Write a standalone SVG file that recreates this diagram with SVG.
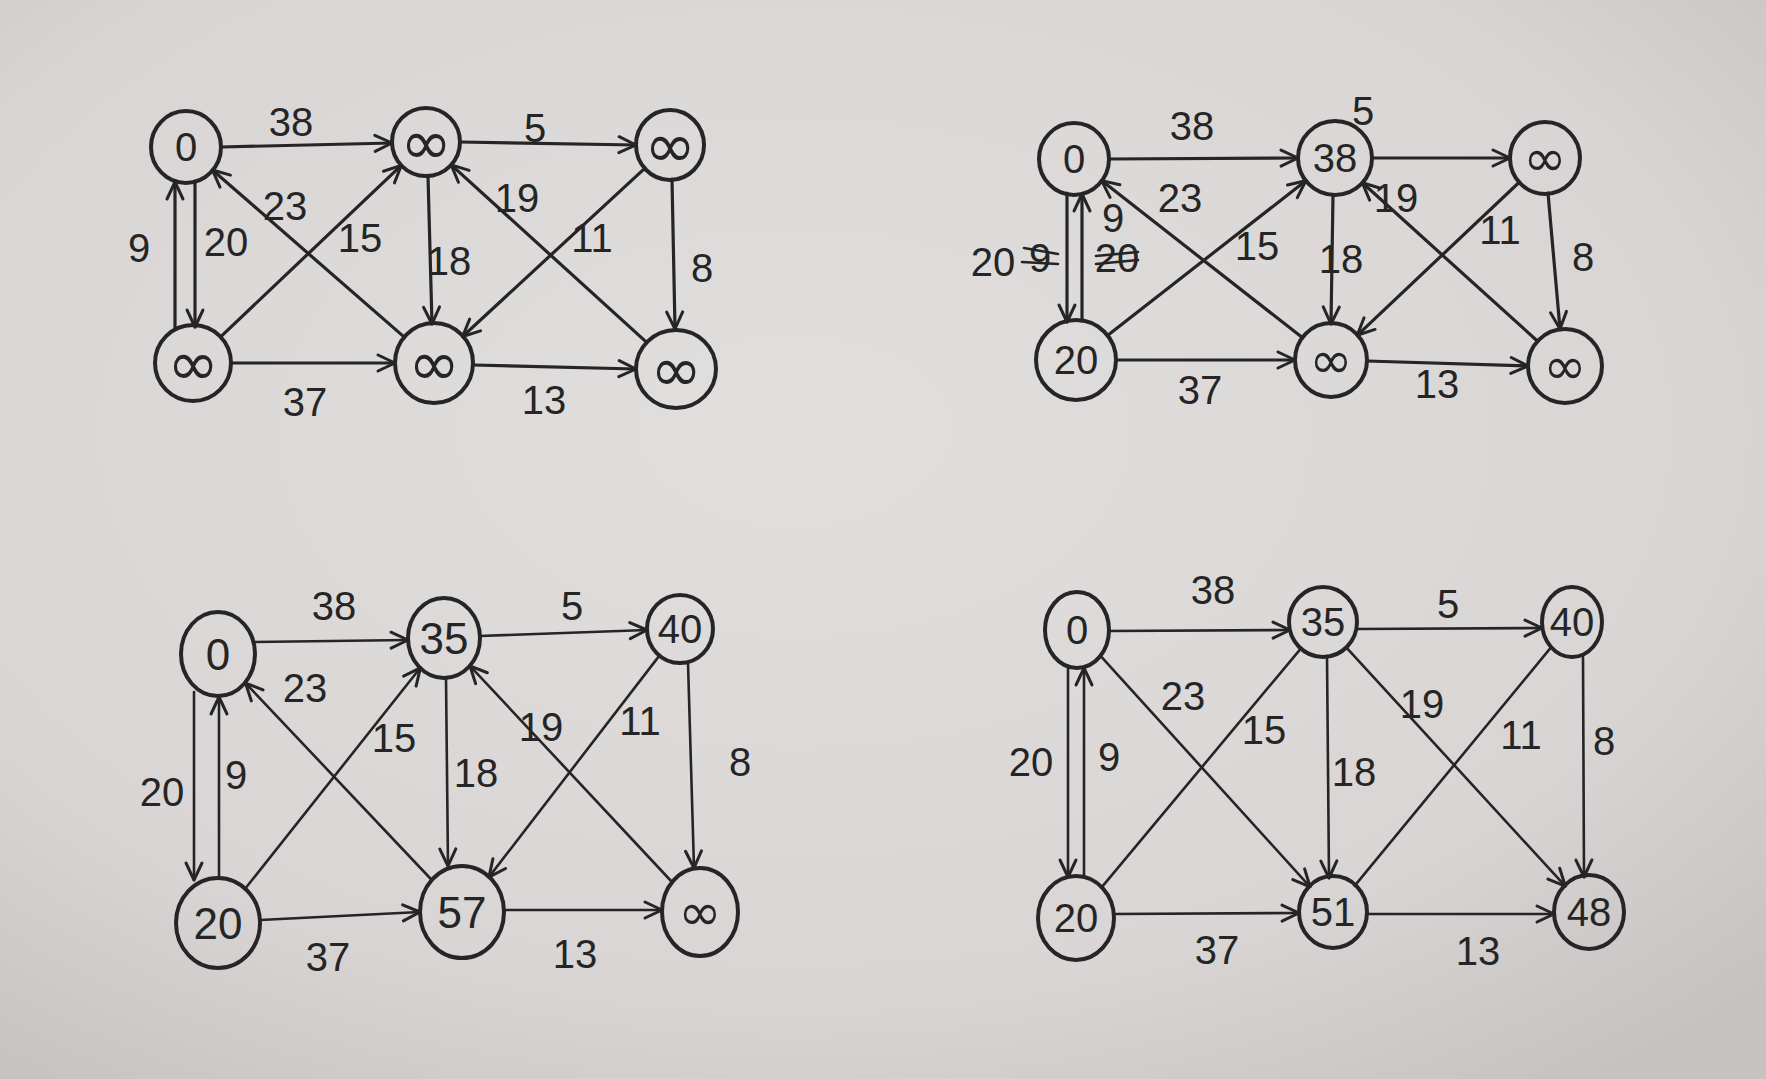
<svg xmlns="http://www.w3.org/2000/svg" width="1766" height="1079" viewBox="0 0 1766 1079">
<defs>
<radialGradient id="paper" cx="0.45" cy="0.4" r="0.75">
<stop offset="0" stop-color="#e1dfde"/>
<stop offset="0.7" stop-color="#d8d5d4"/>
<stop offset="1" stop-color="#c6c2c1"/>
</radialGradient>
<marker id="arr" markerUnits="userSpaceOnUse" markerWidth="22" markerHeight="22" viewBox="0 0 22 22" refX="20" refY="11" orient="auto">
<path d="M3,3 L20,11 L3,19" fill="none" stroke="#252525" stroke-width="3" stroke-linecap="round" stroke-linejoin="round"/>
</marker>
</defs>
<style>
.node{fill:none;stroke:#252525;stroke-width:4}
.nt{font-family:"Liberation Sans","DejaVu Sans",sans-serif;font-size:40px;fill:#252525;text-anchor:middle;dominant-baseline:central}
.nt3{font-family:"Liberation Sans","DejaVu Sans",sans-serif;font-size:44px;fill:#252525;text-anchor:middle;dominant-baseline:central}
.inf{font-family:"DejaVu Sans",sans-serif;font-size:52px;fill:#252525;text-anchor:middle;dominant-baseline:central}
.infb{font-family:"DejaVu Sans",sans-serif;font-size:62px;fill:#252525;text-anchor:middle;dominant-baseline:central}
.lb{font-family:"Liberation Sans","DejaVu Sans",sans-serif;font-size:40px;fill:#252525;text-anchor:middle;dominant-baseline:central}
.e{stroke:#252525;stroke-width:3.2;fill:none;stroke-linecap:round}
.ea{stroke:#252525;stroke-width:3.2;fill:none;stroke-linecap:round;marker-end:url(#arr)}
.t{stroke:#252525;stroke-width:2.6;fill:none;stroke-linecap:round}
.ta{stroke:#252525;stroke-width:2.6;fill:none;stroke-linecap:round;marker-end:url(#arr)}
</style>
<rect width="1766" height="1079" fill="url(#paper)"/>

<!-- Graph 1 -->
<g id="graph1">
<g id="g1-connectors">
<line class="ea" x1="221" y1="147" x2="392" y2="143"/>
<line class="ea" x1="460" y1="142" x2="636" y2="145"/>
<line class="ea" x1="175" y1="328" x2="175" y2="182"/>
<line class="ea" x1="195" y1="181" x2="195" y2="327"/>
<line class="ea" x1="404.6" y1="337.4" x2="212.4" y2="170"/>
<line class="ea" x1="220.6" y1="336.8" x2="401.3" y2="165.4"/>
<line class="ea" x1="428" y1="176" x2="432" y2="324"/>
<line class="ea" x1="646.4" y1="342.1" x2="451.2" y2="164.9"/>
<line class="ea" x1="645" y1="168.1" x2="462.6" y2="336.5"/>
<line class="ea" x1="672" y1="179" x2="675" y2="329"/>
<line class="ea" x1="231" y1="363" x2="395" y2="363"/>
<line class="ea" x1="473" y1="365" x2="636" y2="369"/>
</g>
<g id="g1-labels">
<text class="lb" x="291" y="122">38</text>
<text class="lb" x="535" y="128">5</text>
<text class="lb" x="139" y="248">9</text>
<text class="lb" x="226" y="242">20</text>
<text class="lb" x="285" y="206">23</text>
<text class="lb" x="360" y="238">15</text>
<text class="lb" x="449" y="261">18</text>
<text class="lb" x="517" y="198">19</text>
<text class="lb" x="592" y="238">11</text>
<text class="lb" x="702" y="268">8</text>
<text class="lb" x="305" y="402">37</text>
<text class="lb" x="544" y="400">13</text>
</g>
<g id="g1-n1"><ellipse class="node" cx="186" cy="147" rx="35" ry="36"/><text class="nt" x="186" y="147">0</text></g>
<g id="g1-n2"><ellipse class="node" cx="426" cy="142" rx="34" ry="34"/><text class="infb" x="426" y="142">∞</text></g>
<g id="g1-n3"><ellipse class="node" cx="670" cy="145" rx="34" ry="35"/><text class="infb" x="670" y="145">∞</text></g>
<g id="g1-n4"><ellipse class="node" cx="193" cy="363" rx="38" ry="38"/><text class="infb" x="193" y="363">∞</text></g>
<g id="g1-n5"><ellipse class="node" cx="434" cy="363" rx="39" ry="40"/><text class="infb" x="434" y="363">∞</text></g>
<g id="g1-n6"><ellipse class="node" cx="676" cy="369" rx="40" ry="39"/><text class="infb" x="676" y="369">∞</text></g>
</g>

<!-- Graph 2 -->
<g id="graph2">
<g id="g2-connectors">
<line class="ea" x1="1109" y1="159" x2="1298" y2="158"/>
<line class="ea" x1="1372" y1="158" x2="1510" y2="158"/>
<line class="ea" x1="1067" y1="193" x2="1067" y2="322"/>
<line class="ea" x1="1082" y1="321" x2="1082" y2="194"/>
<line class="ea" x1="1302.6" y1="337.8" x2="1101.6" y2="180.6"/>
<line class="ea" x1="1107.5" y1="335.4" x2="1305.8" y2="180.8"/>
<line class="ea" x1="1333" y1="195" x2="1331" y2="324"/>
<line class="ea" x1="1537.6" y1="341.2" x2="1362.4" y2="182.8"/>
<line class="ea" x1="1519.5" y1="182" x2="1357.2" y2="335.3"/>
<line class="ea" x1="1548" y1="193" x2="1560" y2="329"/>
<line class="ea" x1="1116" y1="360" x2="1295" y2="360"/>
<line class="ea" x1="1367" y1="361" x2="1528" y2="366"/>
</g>
<g id="g2-labels">
<text class="lb" x="1192" y="126">38</text>
<text class="lb" x="1363" y="111">5</text>
<text class="lb" x="1180" y="198">23</text>
<text class="lb" x="1113" y="218">9</text>
<text class="lb" x="1117" y="258">20</text>
<line class="t" x1="1096" y1="256" x2="1138" y2="252"/>
<line class="t" x1="1096" y1="264" x2="1138" y2="260"/>
<text class="lb" x="993" y="262">20</text>
<text class="lb" x="1040" y="258">9</text>
<line class="t" x1="1024" y1="248" x2="1058" y2="254"/>
<line class="t" x1="1022" y1="262" x2="1058" y2="264"/>
<text class="lb" x="1257" y="246">15</text>
<text class="lb" x="1341" y="259">18</text>
<text class="lb" x="1396" y="198">19</text>
<text class="lb" x="1500" y="230">11</text>
<text class="lb" x="1583" y="257">8</text>
<text class="lb" x="1200" y="390">37</text>
<text class="lb" x="1437" y="384">13</text>
</g>
<g id="g2-n1"><ellipse class="node" cx="1074" cy="159" rx="35" ry="36"/><text class="nt" x="1074" y="159">0</text></g>
<g id="g2-n2"><ellipse class="node" cx="1335" cy="158" rx="37" ry="37"/><text class="nt" x="1335" y="158">38</text></g>
<g id="g2-n3"><ellipse class="node" cx="1545" cy="158" rx="35" ry="36"/><text class="inf" x="1545" y="158">∞</text></g>
<g id="g2-n4"><ellipse class="node" cx="1076" cy="360" rx="40" ry="40"/><text class="nt" x="1076" y="360">20</text></g>
<g id="g2-n5"><ellipse class="node" cx="1331" cy="360" rx="36" ry="37"/><text class="inf" x="1331" y="360">∞</text></g>
<g id="g2-n6"><ellipse class="node" cx="1565" cy="366" rx="37" ry="37"/><text class="inf" x="1565" y="366">∞</text></g>
</g>

<!-- Graph 3 -->
<g id="graph3">
<g id="g3-connectors">
<line class="ta" x1="253" y1="642" x2="408" y2="640"/>
<line class="ta" x1="480" y1="636" x2="647" y2="630"/>
<line class="ta" x1="194" y1="692" x2="194" y2="880"/>
<line class="ta" x1="219" y1="878" x2="219" y2="697"/>
<line class="ta" x1="431.8" y1="880" x2="245.5" y2="683.1"/>
<line class="ta" x1="245.3" y1="888.5" x2="420.4" y2="667.8"/>
<line class="ta" x1="446" y1="678" x2="448" y2="866"/>
<line class="ta" x1="672" y1="882" x2="469.9" y2="665.8"/>
<line class="ta" x1="659.2" y1="655.9" x2="488.9" y2="877.1"/>
<line class="ta" x1="688" y1="663" x2="694" y2="868"/>
<line class="ta" x1="260" y1="920" x2="420" y2="912"/>
<line class="ta" x1="504" y1="910" x2="662" y2="910"/>
</g>
<g id="g3-labels">
<text class="lb" x="334" y="606">38</text>
<text class="lb" x="572" y="606">5</text>
<text class="lb" x="305" y="688">23</text>
<text class="lb" x="162" y="792">20</text>
<text class="lb" x="236" y="775">9</text>
<text class="lb" x="394" y="738">15</text>
<text class="lb" x="476" y="773">18</text>
<text class="lb" x="541" y="727">19</text>
<text class="lb" x="640" y="721">11</text>
<text class="lb" x="740" y="762">8</text>
<text class="lb" x="328" y="957">37</text>
<text class="lb" x="575" y="954">13</text>
</g>
<g id="g3-n1"><ellipse class="node" cx="218" cy="654" rx="37" ry="42"/><text class="nt3" x="218" y="654">0</text></g>
<g id="g3-n2"><ellipse class="node" cx="444" cy="638" rx="36" ry="40"/><text class="nt3" x="444" y="638">35</text></g>
<g id="g3-n3"><ellipse class="node" cx="680" cy="629" rx="33" ry="34"/><text class="nt" x="680" y="629">40</text></g>
<g id="g3-n4"><ellipse class="node" cx="218" cy="923" rx="42" ry="45"/><text class="nt3" x="218" y="923">20</text></g>
<g id="g3-n5"><ellipse class="node" cx="462" cy="912" rx="42" ry="46"/><text class="nt3" x="462" y="912">57</text></g>
<g id="g3-n6"><ellipse class="node" cx="700" cy="912" rx="38" ry="44"/><text class="inf" x="700" y="912">∞</text></g>
</g>

<!-- Graph 4 -->
<g id="graph4">
<g id="g4-connectors">
<line class="ta" x1="1109" y1="631" x2="1290" y2="630"/>
<line class="ta" x1="1357" y1="629" x2="1542" y2="628"/>
<line class="ta" x1="1068" y1="667" x2="1068" y2="877"/>
<line class="ta" x1="1084" y1="877" x2="1084" y2="668"/>
<line class="ta" x1="1101.2" y1="656.7" x2="1310.1" y2="886.8"/>
<line class="t" x1="1101.6" y1="887.3" x2="1301.2" y2="648.1"/>
<line class="ta" x1="1327" y1="656" x2="1329" y2="878"/>
<line class="ta" x1="1346" y1="647.1" x2="1565.3" y2="886.2"/>
<line class="t" x1="1354.6" y1="885.8" x2="1550.4" y2="648.2"/>
<line class="ta" x1="1583" y1="657" x2="1584" y2="877"/>
<line class="ta" x1="1114" y1="914" x2="1299" y2="913"/>
<line class="ta" x1="1367" y1="914" x2="1554" y2="914"/>
</g>
<g id="g4-labels">
<text class="lb" x="1213" y="590">38</text>
<text class="lb" x="1448" y="604">5</text>
<text class="lb" x="1183" y="696">23</text>
<text class="lb" x="1031" y="762">20</text>
<text class="lb" x="1109" y="757">9</text>
<text class="lb" x="1264" y="730">15</text>
<text class="lb" x="1354" y="772">18</text>
<text class="lb" x="1422" y="704">19</text>
<text class="lb" x="1521" y="735">11</text>
<text class="lb" x="1604" y="741">8</text>
<text class="lb" x="1217" y="950">37</text>
<text class="lb" x="1478" y="951">13</text>
</g>
<g id="g4-n1"><ellipse class="node" cx="1077" cy="630" rx="32" ry="38"/><text class="nt" x="1077" y="630">0</text></g>
<g id="g4-n2"><ellipse class="node" cx="1323" cy="622" rx="34" ry="35"/><text class="nt" x="1323" y="622">35</text></g>
<g id="g4-n3"><ellipse class="node" cx="1572" cy="622" rx="30" ry="35"/><text class="nt" x="1572" y="622">40</text></g>
<g id="g4-n4"><ellipse class="node" cx="1076" cy="918" rx="38" ry="42"/><text class="nt" x="1076" y="918">20</text></g>
<g id="g4-n5"><ellipse class="node" cx="1333" cy="912" rx="34" ry="36"/><text class="nt" x="1333" y="912">51</text></g>
<g id="g4-n6"><ellipse class="node" cx="1589" cy="912" rx="35" ry="37"/><text class="nt" x="1589" y="912">48</text></g>
</g>
</svg>
